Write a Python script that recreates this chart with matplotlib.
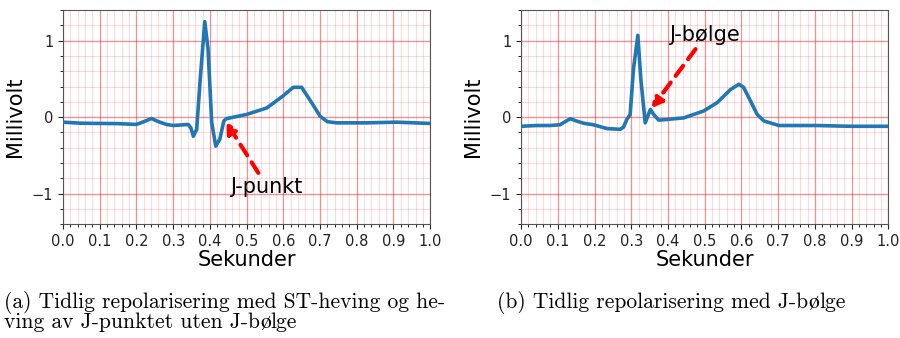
import matplotlib
matplotlib.use("Agg")
import matplotlib.pyplot as plt
from matplotlib.ticker import MultipleLocator

# Panel (a): early repolarization with ST elevation, no J wave
t_a = [0.0, 0.05, 0.1, 0.15, 0.2, 0.22, 0.241, 0.26, 0.282, 0.3, 0.341, 0.348, 0.355, 0.364,
       0.373, 0.386, 0.395, 0.405, 0.416, 0.427, 0.438, 0.445, 0.5, 0.555, 0.6, 0.627,
       0.65, 0.677, 0.7, 0.72, 0.745, 0.827, 0.909, 1.0]
v_a = [-0.066, -0.08, -0.083, -0.085, -0.096, -0.06, -0.018, -0.06, -0.096, -0.11, -0.096, -0.14,
       -0.25, -0.16, 0.45, 1.25, 0.89, -0.07, -0.38, -0.29, -0.05, -0.02, 0.035, 0.12, 0.28, 0.39,
       0.39, 0.19, 0.013, -0.06, -0.075, -0.075, -0.066, -0.083]

# Panel (b): early repolarization with J wave
t_b = [0.0, 0.04, 0.079, 0.106, 0.134, 0.15, 0.161, 0.17, 0.197, 0.234, 0.27, 0.279, 0.288,
       0.297, 0.306, 0.318, 0.326, 0.338, 0.352, 0.361, 0.375, 0.443, 0.497, 0.534, 0.57,
       0.593, 0.606, 0.643, 0.661, 0.702, 0.806, 0.897, 1.0]
v_b = [-0.12, -0.11, -0.11, -0.1, -0.02, -0.05, -0.066, -0.08, -0.1, -0.15, -0.16, -0.13, -0.03,
       0.035, 0.63, 1.07, 0.5, -0.075, 0.1, 0.035, -0.04, -0.01, 0.08, 0.19, 0.36, 0.43, 0.39,
       0.035, -0.05, -0.11, -0.11, -0.12, -0.12]

xticks = [0.0, 0.1, 0.2, 0.3, 0.4, 0.5, 0.6, 0.7, 0.8, 0.9, 1.0]
yticks = [-1, 0, 1]
xlabel = "Sekunder"
ylabel = "Millivolt"
label_a = "J-punkt"
label_b = "J-bølge"
caption_a1 = "(a) Tidlig repolarisering med ST-heving og he-"
caption_a2 = "ving av J-punktet uten J-bølge"
caption_b = "(b) Tidlig repolarisering med J-bølge"

fig = plt.figure(figsize=(9, 3.38), dpi=100)
ax_a = fig.add_axes([0.070, 0.337, 0.408, 0.633])
ax_b = fig.add_axes([0.579, 0.337, 0.408, 0.633])

def style(ax, t, v):
    ax.plot(t, v, color="#1f77b4", lw=2.6, solid_joinstyle="round", zorder=3)
    ax.set_xlim(0, 1)
    ax.set_ylim(-1.4, 1.4)
    ax.set_xticks(xticks)
    ax.set_xticklabels([f"{x:.1f}" for x in xticks])
    ax.set_yticks(yticks)
    ax.set_yticklabels(["\u22121", "0", "1"])
    ax.xaxis.set_minor_locator(MultipleLocator(0.02))
    ax.yaxis.set_minor_locator(MultipleLocator(0.2))
    ax.grid(which="major", color="red", alpha=0.45, lw=0.9)
    ax.grid(which="minor", color="red", alpha=0.15, lw=0.8)
    ax.tick_params(labelsize=10.5, colors="#222222")
    ax.set_xlabel(xlabel, fontsize=15, labelpad=1)
    ax.set_ylabel(ylabel, fontsize=15, labelpad=5)
    for s in ax.spines.values():
        s.set_color("#555555")

style(ax_a, t_a, v_a)
style(ax_b, t_b, v_b)

arrow = dict(arrowstyle="-|>,head_length=0.6,head_width=0.35", color="red", lw=3,
             linestyle=(0, (3, 2)), shrinkA=0, shrinkB=0)
ax_a.annotate("", xy=(0.445, -0.07), xytext=(0.532, -0.73), arrowprops=arrow)
ax_a.text(0.553, -0.92, label_a, fontsize=15, ha="center", va="center")
ax_b.annotate("", xy=(0.356, 0.12), xytext=(0.475, 0.89), arrowprops=arrow)
ax_b.text(0.499, 1.08, label_b, fontsize=15, ha="center", va="center")

# Captions in a Computer Modern look; the "ø" glyph comes from a font that has it.
renderer = fig.canvas.get_renderer()

def caption(x_px, y_px, text, size=15.5):
    parts = []
    buf = ""
    for ch in text:
        if ch == "ø":
            if buf:
                parts.append((buf, "cmr10"))
                buf = ""
            parts.append((ch, "STIXGeneral"))
        else:
            buf += ch
    if buf:
        parts.append((buf, "cmr10"))
    x = x_px
    for s, fam in parts:
        t = fig.text(x / 900, 1 - y_px / 338, s, fontsize=size, family=fam,
                     ha="left", va="baseline")
        bb = t.get_window_extent(renderer=renderer)
        x += bb.width

caption(4, 308, caption_a1)
caption(4, 328, caption_a2)
caption(497, 308, caption_b)

fig.savefig("out.png", dpi=100)
